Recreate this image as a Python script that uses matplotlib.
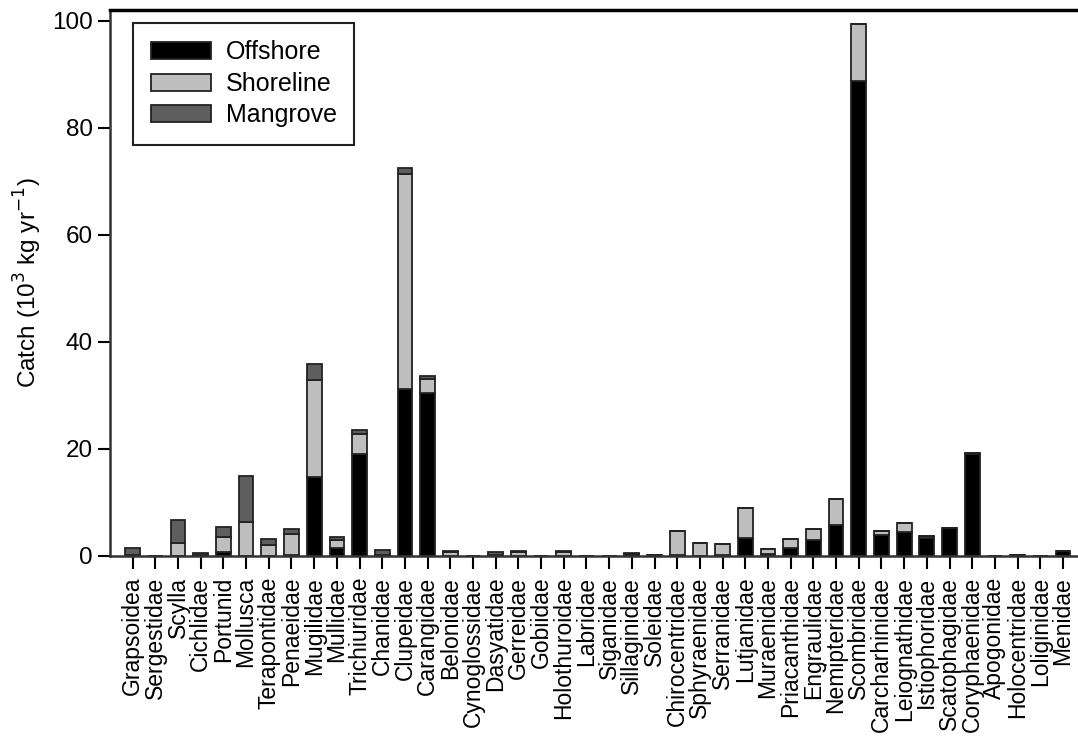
import numpy as np
import matplotlib
matplotlib.use("Agg")
from matplotlib import pyplot as plt

plt.rcParams['font.family'] = ['Liberation Sans', 'DejaVu Sans']

families = ['Grapsoidea', 'Sergestidae', 'Scylla', 'Cichlidae', 'Portunid', 'Mollusca',
            'Terapontidae', 'Penaeidae', 'Mugilidae', 'Mullidae', 'Trichiuridae', 'Chanidae',
            'Clupeidae', 'Carangidae', 'Belonidae', 'Cynoglossidae', 'Dasyatidae', 'Gerreidae',
            'Gobiidae', 'Holothuroidae', 'Labridae', 'Siganidae', 'Sillaginidae', 'Soleidae',
            'Chirocentridae', 'Sphyraenidae', 'Serranidae', 'Lutjanidae', 'Muraenidae',
            'Priacanthidae', 'Engraulidae', 'Nemipteridae', 'Scombridae', 'Carcharhinidae',
            'Leiognathidae', 'Istiophoridae', 'Scatophagidae', 'Coryphaenidae', 'Apogonidae',
            'Holocentridae', 'Loliginidae', 'Menidae']

# catch in 10^3 kg per year
offshore = [0.2, 0.0, 0.0, 0.2, 0.8, 0.0,
            0.0, 0.1, 14.8, 1.5, 19.0, 0.0,
            31.1, 30.4, 0.0, 0.0, 0.0, 0.0,
            0.0, 0.0, 0.0, 0.0, 0.3, 0.1,
            0.2, 0.0, 0.2, 3.3, 0.3,
            1.4, 3.0, 5.8, 88.8, 3.9,
            4.4, 3.4, 5.2, 19.0, 0.0,
            0.1, 0.0, 0.9]
shoreline = [0.0, 0.0, 2.4, 0.0, 2.8, 6.3,
             2.1, 4.0, 18.0, 1.4, 3.8, 0.2,
             40.2, 2.6, 0.8, 0.0, 0.2, 0.8,
             0.0, 0.8, 0.0, 0.0, 0.0, 0.1,
             4.4, 2.5, 2.0, 5.6, 1.0,
             1.8, 2.0, 4.8, 10.6, 0.7,
             1.7, 0.4, 0.1, 0.3, 0.0,
             0.1, 0.0, 0.1]
mangrove = [1.3, 0.0, 4.4, 0.3, 1.8, 8.7,
            1.1, 0.9, 3.0, 0.6, 0.7, 0.9,
            1.1, 0.6, 0.2, 0.0, 0.5, 0.2,
            0.0, 0.2, 0.0, 0.0, 0.2, 0.0,
            0.0, 0.0, 0.0, 0.0, 0.0,
            0.0, 0.0, 0.0, 0.0, 0.0,
            0.0, 0.0, 0.0, 0.0, 0.0,
            0.0, 0.0, 0.0]

off = np.array(offshore)
sho = np.array(shoreline)
man = np.array(mangrove)
x = np.arange(len(families))

fig = plt.figure(figsize=(10.78, 7.37), dpi=100)
ax = fig.add_axes([0.102, 0.2456, 0.898, 0.741])

bw = 0.65
edge = dict(edgecolor='#222222', linewidth=1.3)
ax.bar(x, off, bw, color='black', label='Offshore', **edge)
ax.bar(x, sho, bw, bottom=off, color='#bebebe', label='Shoreline', **edge)
ax.bar(x, man, bw, bottom=off + sho, color='#5e5e5e', label='Mangrove', **edge)

ax.set_xlim(-1.0, 41.66)
ax.set_ylim(0, 102)
ax.set_yticks([0, 20, 40, 60, 80, 100])
ax.set_xticks(x)
ax.set_xticklabels(families, rotation=90, fontsize=16.5)
ax.tick_params(axis='y', labelsize=17.5, length=9, width=1.5, direction='out')
ax.tick_params(axis='x', length=9, width=1.5, direction='out', pad=6)
ax.set_ylabel('Catch (10$^3$ kg yr$^{-1}$)', fontsize=17.5, labelpad=6)

ax.spines['right'].set_visible(False)
ax.spines['top'].set_linewidth(2.5)
ax.spines['left'].set_linewidth(1.8)
ax.spines['bottom'].set_linewidth(1.8)
ax.spines['left'].set_color('#333333')
ax.spines['bottom'].set_color('#333333')

leg = ax.legend(loc='upper left', bbox_to_anchor=(0.024, 0.976), fontsize=18,
                fancybox=False, edgecolor='#222222', framealpha=1,
                handlelength=2.4, handleheight=0.65, handletextpad=0.6,
                labelspacing=0.3, borderpad=0.7, borderaxespad=0)
leg.get_frame().set_linewidth(1.5)

fig.savefig('out.png', dpi=100)
